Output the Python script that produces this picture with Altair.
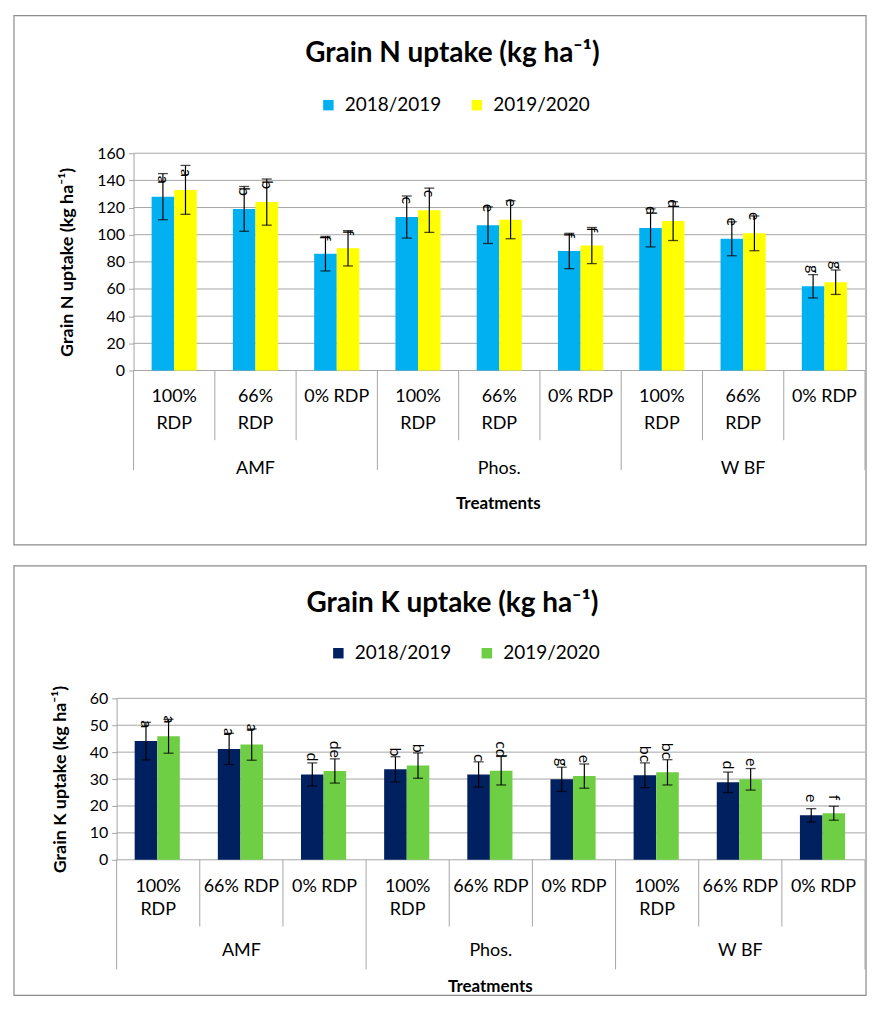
import altair as alt
import pandas as pd

FONT = "Lato"

groups = ["AMF", "Phos.", "W BF"]
sub_ids = ["100", "66", "0"]
years = ["2018/2019", "2019/2020"]
cats = [f"{g}|{s}" for g in groups for s in sub_ids]

# Grain N uptake
n_labels = ["100%\nRDP", "66%\nRDP", "0% RDP"] * 3
n_2018 = [128, 119, 86, 113, 107, 88, 105, 97, 62]
n_2018_err = [17, 16.5, 12.7, 15.5, 13.5, 13, 14, 12.5, 8.6]
n_2020 = [133, 124, 90, 118, 111, 92, 110, 101, 65]
n_2020_err = [18, 17, 13, 16.3, 14, 13.3, 14.3, 12.8, 9]
n_let_2018 = ["a", "b", "f", "c", "e", "f", "d", "e", "g"]
n_let_2020 = ["a", "b", "f", "c", "e", "f", "d", "e", "g"]
n_colors = ["#00B0F0", "#FFFF00"]

# Grain K uptake
k_labels = ["100%\nRDP", "66% RDP", "0% RDP"] * 3
k_2018 = [44.1, 41.2, 31.7, 33.6, 31.7, 29.9, 31.4, 28.8, 16.5]
k_2018_err = [7, 5.8, 4.3, 4.7, 4.7, 4.5, 4.6, 3.8, 2.5]
k_2020 = [45.9, 42.8, 33, 35, 33.1, 31.1, 32.5, 29.9, 17.3]
k_2020_err = [6.3, 5.8, 4.5, 4.7, 5.3, 4.5, 4.7, 4, 2.6]
k_let_2018 = ["a", "a", "d", "b", "c", "g", "bc", "d", "e"]
k_let_2020 = ["a", "a", "de", "b", "cd", "e", "bc", "e", "f"]
k_colors = ["#002060", "#6ECF45"]

GRID = "#a6a6a6"


def panel(v1, e1, v2, e2, l1, l2, sublabels, colors, W, H, shift, ymax, ystep,
          ytitle, title, fx_left, fy_top, frame_bottom, title_x, title_y,
          leg_x, leg_y, line_h, sep_short, sep_long, group_y, treat_x, treat_y, pad):
    rows = []
    for yr, vals, errs, lets in [(years[0], v1, e1, l1), (years[1], v2, e2, l2)]:
        for c, v, e, l in zip(cats, vals, errs, lets):
            rows.append(dict(cat=c, year=yr, value=v, lo=v - e, hi=v + e, letter=l))
    df = pd.DataFrame(rows)

    xscale = alt.Scale(domain=cats, range=[-shift, W], paddingInner=0, paddingOuter=0)
    xenc = alt.X("cat:N", sort=cats, scale=xscale, axis=None)
    xoff = alt.XOffset("year:N", sort=years,
                       scale=alt.Scale(domain=years, paddingInner=0, paddingOuter=pad))
    yscale = alt.Scale(domain=[0, ymax], nice=False)
    tick_vals = list(range(0, ymax + 1, ystep))
    yaxis = alt.Axis(values=tick_vals, grid=False, offset=shift,
                     domainColor=GRID, tickColor=GRID, tickSize=5, labelFontSize=16,
                     labelFont=FONT, labelColor="black", labelPadding=4,
                     title=ytitle, titleFont=FONT, titleFontSize=18,
                     titleFontWeight="bold", titleColor="black", titlePadding=20)

    base = alt.Chart(df)
    frame = alt.Chart(pd.DataFrame({"k": [0]})).mark_rect(
        fillOpacity=0, stroke="#8c8c8c", strokeWidth=1.2
    ).encode(x=alt.value(fx_left), x2=alt.value(W + 1),
             y=alt.value(fy_top), y2=alt.value(H + frame_bottom))

    grid = alt.Chart(pd.DataFrame({"v": tick_vals})).mark_rule(
        color=GRID, strokeWidth=1).encode(
        x=alt.value(-shift), x2=alt.value(W),
        y=alt.Y("v:Q", scale=yscale, axis=yaxis))

    bars = base.mark_bar().encode(
        x=xenc, xOffset=xoff,
        y=alt.Y("value:Q", scale=yscale, axis=yaxis),
        color=alt.Color("year:N", scale=alt.Scale(domain=years, range=colors),
                        legend=alt.Legend(orient="none", legendX=leg_x, legendY=leg_y,
                                          direction="horizontal", title=None,
                                          symbolType="square", symbolSize=110,
                                          symbolStrokeWidth=0, labelFont=FONT,
                                          labelFontSize=19, labelColor="black",
                                          labelOffset=7, columnPadding=26)),
    )
    rule = base.mark_rule(color="black", strokeWidth=1.2).encode(
        x=xenc, xOffset=xoff, y=alt.Y("lo:Q", scale=yscale, axis=yaxis), y2="hi:Q")
    cap_lo = base.mark_tick(color="black", size=10, thickness=1.3).encode(
        x=xenc, xOffset=xoff, y=alt.Y("lo:Q", scale=yscale, axis=yaxis))
    cap_hi = base.mark_tick(color="black", size=10, thickness=1.3).encode(
        x=xenc, xOffset=xoff, y=alt.Y("hi:Q", scale=yscale, axis=yaxis))
    letters = base.mark_text(angle=90, align="right", baseline="middle", dx=-13,
                             fontSize=16, font=FONT, color="black").encode(
        x=xenc, xOffset=xoff, y=alt.Y("value:Q", scale=yscale, axis=yaxis),
        text="letter:N")

    sep_df = pd.DataFrame({"cat": cats, "long": [i % 3 == 0 for i in range(9)]})
    sep_s = alt.Chart(sep_df).transform_filter("!datum.long").mark_rule(
        color=GRID, strokeWidth=1).encode(
        x=alt.X("cat:N", sort=cats, scale=xscale, axis=None, bandPosition=0),
        y=alt.value(H), y2=alt.value(H + sep_short))
    sep_l = alt.Chart(sep_df).transform_filter("datum.long").mark_rule(
        color=GRID, strokeWidth=1).encode(
        x=alt.X("cat:N", sort=cats, scale=xscale, axis=None, bandPosition=0),
        y=alt.value(H), y2=alt.value(H + sep_long))
    sep_end = alt.Chart(pd.DataFrame({"cat": [cats[-1]]})).mark_rule(
        color=GRID, strokeWidth=1).encode(
        x=alt.X("cat:N", sort=cats, scale=xscale, axis=None, bandPosition=1),
        y=alt.value(H), y2=alt.value(H + sep_long))

    lab_df = pd.DataFrame({"cat": cats, "label": sublabels})
    sub_text = alt.Chart(lab_df).mark_text(
        lineBreak="\n", lineHeight=line_h, baseline="top", fontSize=18, font=FONT,
        color="black").encode(
        x=alt.X("cat:N", sort=cats, scale=xscale, axis=None),
        y=alt.value(H + 18), text="label:N")

    grp_df = pd.DataFrame({"cat": [cats[1], cats[4], cats[7]], "group": groups})
    grp_text = alt.Chart(grp_df).mark_text(
        baseline="middle", fontSize=18, font=FONT, color="black").encode(
        x=alt.X("cat:N", sort=cats, scale=xscale, axis=None),
        y=alt.value(H + group_y), text="group:N")

    treat = alt.Chart(pd.DataFrame({"t": ["Treatments"]})).mark_text(
        baseline="middle", fontSize=17, font=FONT, fontWeight="bold", color="black"
    ).encode(x=alt.value(treat_x), y=alt.value(H + treat_y), text="t:N")

    ttl = alt.Chart(pd.DataFrame({"t": [title]})).mark_text(
        baseline="middle", fontSize=28, font=FONT, fontWeight="bold", color="black"
    ).encode(x=alt.value(title_x), y=alt.value(title_y), text="t:N")

    return alt.layer(frame, grid, bars, rule, cap_lo, cap_hi, letters, sep_s, sep_l,
                     sep_end, sub_text, grp_text, treat, ttl).properties(width=W, height=H)


# Both panels share the same plot origin (page x = 132); the lower panel's
# category band starts 17 px further left, as in the reference.
top = panel(n_2018, n_2018_err, n_2020, n_2020_err, n_let_2018, n_let_2020, n_labels,
            n_colors, W=734, H=218, shift=0, ymax=160, ystep=20,
            ytitle="Grain N uptake (kg ha⁻¹)", title="Grain N uptake (kg ha⁻¹)",
            fx_left=-120, fy_top=-138, frame_bottom=175, title_x=320, title_y=-100,
            leg_x=186, leg_y=-58, line_h=27, sep_short=70, sep_long=100,
            group_y=99, treat_x=366, treat_y=134, pad=0.8)

bottom = panel(k_2018, k_2018_err, k_2020, k_2020_err, k_let_2018, k_let_2020, k_labels,
               k_colors, W=734, H=162, shift=17, ymax=60, ystep=10,
               ytitle="Grain K uptake (kg ha⁻¹)", title="Grain K uptake (kg ha⁻¹)",
               fx_left=-120, fy_top=-133, frame_bottom=136, title_x=320, title_y=-95,
               leg_x=196, leg_y=-55, line_h=23, sep_short=67, sep_long=110,
               group_y=92, treat_x=358, treat_y=128, pad=0.76)

chart = alt.vconcat(top, bottom, spacing=17).resolve_scale(
    color="independent", x="independent", y="independent"
).configure(padding=4).configure_view(stroke="transparent")

chart.save("out.html", embed_options={"renderer": "svg", "actions": False})
